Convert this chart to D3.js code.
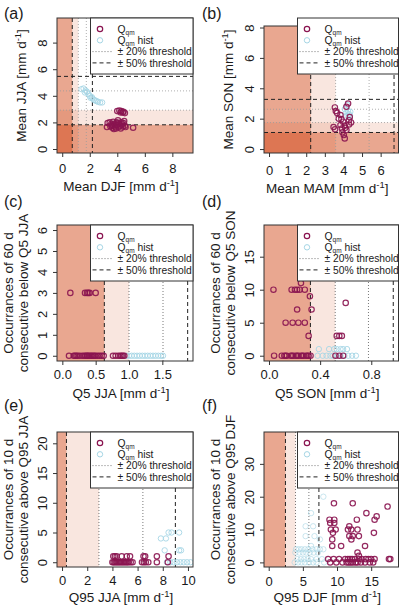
<!DOCTYPE html>
<html>
<head>
<meta charset="utf-8">
<script src="https://cdn.jsdelivr.net/npm/d3@7"></script>
<style>
  body { margin: 0; background: #fff; }
  svg { display: block; }
  text { font-family: "Liberation Sans", Arial, sans-serif; fill: #1a1a1a; }
</style>
</head>
<body>
<svg width="400" height="608"></svg>
<script>
// values, one pair = [x, y]

// (a) mean DJF vs mean JJA
const qqmA = [[4.0,2.85],[4.15,2.9],[4.3,2.85],[4.4,2.75],[4.55,2.7],[4.25,2.75],[4.45,2.8],
  [3.25,1.65],[3.3,1.95],[3.45,2.0],[3.55,1.85],[3.6,1.75],[3.65,1.6],[3.7,2.05],[3.75,1.5],[3.8,1.9],
  [3.85,1.7],[3.9,1.55],[3.95,2.0],[4.0,1.8],[4.05,2.15],[4.1,1.65],[4.15,1.9],[4.2,1.75],[4.25,1.55],
  [4.3,2.0],[4.35,1.85],[4.4,1.7],[4.5,2.1],[4.55,1.75],[4.6,1.65],[3.5,1.7],[3.7,1.8],[4.0,1.95],
  [5.15,1.6],[4.45,1.95]]
const histA = [[1.4,4.5],[1.55,4.55],[1.7,4.4],[1.8,4.3],[1.9,4.15],[2.0,4.0],[2.05,3.85],[2.2,3.8],
  [2.3,3.7],[2.4,3.65],[2.5,3.6],[2.6,3.55],[2.75,3.5],[2.9,3.5],[1.65,4.25],[2.15,3.9]]

// (b) mean MAM vs mean SON
const qqmB = [[3.54,2.74],[3.59,2.5],[3.66,2.38],[3.84,2.24],[4.25,3.0],[4.16,2.78],[3.89,1.97],
  [3.98,1.8],[3.84,1.58],[4.07,1.54],[4.3,1.62],[4.41,1.75],[4.16,1.25],[3.47,1.45],[3.55,1.3],
  [3.95,1.1],[4.02,0.92],[4.07,0.7],[4.3,1.9],[4.34,2.1],[3.75,2.0],[4.1,1.4],[3.92,1.35]]
const histB = [[4.07,2.63],[4.16,2.41],[4.25,2.5],[4.3,2.3],[4.12,2.15],[4.37,2.45],[4.2,2.9],
  [4.22,2.2],[4.35,2.2]]

// (c) Q5 JJA vs occurrences of 60 d below
const qqmC = [[0.10,0],[0.17,0],[0.19,0],[0.21,0],[0.23,0],[0.26,0],[0.30,0],[0.33,0],[0.35,0],
  [0.37,0],[0.38,0],[0.40,0],[0.42,0],[0.44,0],[0.46,0],[0.48,0],[0.50,0],[0.53,0],[0.56,0],
  [0.59,0],[0.62,0],[0.76,0],[0.80,0],[0.84,0],[0.87,0],[0.89,0],[0.91,0],[0.93,0],
  [0.12,3],[0.34,3],[0.37,3],[0.39,3],[0.41,3],[0.50,3]]
const histC = [[0.96,0],[1.0,0],[1.04,0],[1.08,0],[1.12,0],[1.16,0],[1.2,0],[1.24,0],[1.28,0],
  [1.32,0],[1.36,0],[1.4,0],[1.44,0],[1.48,0],[1.51,0]]

// (d) Q5 SON vs occurrences of 60 d below
const qqmD = [[0.25,11],[0.035,10],[0.177,10],[0.203,10],[0.22,10],[0.24,10],[0.28,10],[0.32,9],
  [0.333,7],[0.22,7],[0.6,8],[0.13,5],[0.185,5],[0.23,5],[0.28,5],[0.31,3],[0.53,3],[0.55,3],[0.57,3],
  [0.04,0],[0.10,0],[0.12,0],[0.13,0],[0.14,0],[0.17,0],[0.18,0],[0.19,0],[0.21,0],[0.22,0],[0.23,0],
  [0.25,0],[0.26,0],[0.27,0],[0.29,0],[0.30,0],[0.31,0],[0.325,0],[0.52,0],[0.55,0],[0.58,0]]
const histD = [[0.39,1],[0.47,1],[0.51,1],[0.53,1],[0.56,1],[0.58,1],[0.61,1],
  [0.38,0],[0.42,0],[0.45,0],[0.48,0],[0.50,0],[0.53,0],[0.56,0],[0.59,0],[0.62,0],[0.65,0],[0.68,0]]

// (e) Q95 JJA vs occurrences of 10 d above
const qqmE = [[4.07,1],[4.2,1],[4.34,1],[4.74,1],[5.14,1],[5.4,1],[6.47,1],[6.6,1],[7.53,1],[8.46,1],
  [4.0,0],[4.1,0],[4.2,0],[4.3,0],[4.4,0],[4.5,0],[4.6,0],[4.7,0],[4.8,0],[4.9,0],[5.0,0],[5.1,0],
  [5.2,0],[5.3,0],[5.45,0],[5.6,0],[6.35,0],[6.5,0],[6.65,0],[6.85,0],[7.53,0],[8.4,0]]
const histE = [[8.46,5],[8.7,5],[9.3,5],[7.85,4],[8.25,4],[8.15,2],[9.3,2],[9.45,2],
  [8.33,0],[8.6,0],[8.86,0],[9.13,0],[9.4,0],[9.66,0],[9.93,0],[10.2,0]]

// (f) Q95 DJF vs occurrences of 10 d above
const qqmF = [[9.55,18],[12.3,18],[17.4,17],[14.3,15],[15.8,14],[15.5,13],[8.9,13],[9.6,13],[9.0,12],
  [9.6,12],[12.9,13],[11.6,10],[11.8,11],[12.1,10],[13.0,10],[9.1,10],[9.8,10],[9.4,9],[11.8,8],
  [12.3,8],[13.2,8],[15.4,9],[9.3,7],[12.1,7],[9.3,5],[10.6,5],[14.1,5],[13.0,3],[13.2,2],
  [8.7,1],[9.5,1],[10.3,1],[11.2,1],[11.6,1],[11.9,1],[12.2,1],[12.6,1],[13.2,1],[13.6,1],[14.2,1],
  [14.6,1],[15.0,1],[15.5,1],[17.6,1],[17.8,1],
  [9.0,0],[9.9,0],[10.8,0],[11.4,0],[11.7,0],[12.0,0],[12.3,0],[12.7,0],[13.0,0],[13.5,0],[14.1,0],
  [14.8,0],[15.3,0]]
const histF = [[8.0,20],[6.2,15],[5.4,11],[6.5,11],[5.4,8],[6.7,8],[7.5,7],[6.2,5],
  [4.0,4],[4.4,4],[4.8,4],[5.3,4],[5.8,4],[6.4,4],[7.0,4],[7.5,4],[8.0,4],
  [3.9,3],[4.5,3],[5.0,3],[5.5,3],[6.0,3],[6.6,3],[7.2,3],
  [4.2,1],[4.7,1],[5.2,1],[5.7,1],[6.2,1],[7.0,1],[7.8,1],
  [3.8,0],[4.3,0],[4.8,0],[5.3,0],[5.9,0],[6.5,0],[7.0,0],[8.1,0]]

// thresholds (lower, upper)
const x50 = [[0.73,2.19],[2.24,6.72],[0.63,1.88],[0.324,0.972],[0.35,9.0],[2.45,7.35]]
const x20 = [[1.17,1.75],[3.58,5.38],[1.0,1.51],[0.518,0.778],[2.93,6.42],[3.92,5.88]]
const y50 = [[1.82,5.46],[1.09,3.27]]
const y20 = [[2.92,4.37],[1.745,2.62]]

// ticks
const xTicks = [[0,2,4,6,8],[0,1,2,3,4,5,6],[0,0.5,1,1.5],[0,0.4,0.8],[0,2,4,6,8,10],[0,5,10,15]]
const yTicks = [[0,2,4,6,8],[0,2,4,6,8],[0,1,2,3,4,5,6],[0,5,10,15],[0,5,10,15,20],[0,10,20,30]]
const xFmt = [d3.format("d"), d3.format("d"), d3.format(".1f"), d3.format(".1f"), d3.format("d"), d3.format("d")]

const letters = ["(a)","(b)","(c)","(d)","(e)","(f)"]
const xTitles = ["Mean DJF", "Mean MAM", "Q5 JJA", "Q5 SON", "Q95 JJA", "Q95 DJF "]
const yTitles = [["Mean JJA"], ["Mean SON"],
  ["Occurrances of 60 d", "consecutive below Q5 JJA"],
  ["Occurrances of 60 d", "consecutive below Q5 SON"],
  ["Occurrances of 10 d", "consecutive above Q95 JJA"],
  ["Occurrances of 10 d", "consecutive above Q95 DJF"]]

const qqmData = [qqmA, qqmB, qqmC, qqmD, qqmE, qqmF]
const histData = [histA, histB, histC, histD, histE, histF]

// layout
const boxes = [
  {l: 57,  r: 193, t: 18,  b: 153, row: 18,  xd: [-0.38, 9.5],  yd: [-0.3, 9.85]},
  {l: 264, r: 398.5, t: 26, b: 153, row: 18, xd: [-0.27, 6.96], yd: [-0.26, 8.1]},
  {l: 57,  r: 193, t: 225, b: 361, row: 225, xd: [-0.08, 1.96], yd: [-0.25, 6.24]},
  {l: 264, r: 398.5, t: 225, b: 361, row: 225, xd: [-0.039, 1.013], yd: [-0.8, 19.8]},
  {l: 57,  r: 193, t: 432, b: 567, row: 432, xd: [-0.4, 10.4], yd: [-0.8, 21.9]},
  {l: 264, r: 398.5, t: 432, b: 567, row: 432, xd: [-0.69, 19.0], yd: [-1.4, 39.7]}
]
const letterY = [19, 19, 207, 207, 411, 411]
const tickPad = [6.5, 8.5, 4.5, 4.5, 5, 6]
const titleOff = [38, 40, 36.5, 36.5, 35, 35]

const dark = "rgba(206,60,8,0.45)",
      pale = "rgba(206,60,8,0.13)",
      qqmCol = "#8a1450",
      histCol = "#a6d6e5"

const svg = d3.select("svg")

const addUnit = (sel) => {
  sel.append("tspan").text(" [mm d")
  sel.append("tspan").attr("font-size", "0.7em").attr("dy", "-0.5em").text("-1")
  sel.append("tspan").attr("dy", "0.35em").text("]")
}

boxes.forEach((p, i) => {
  const x = d3.scaleLinear().domain(p.xd).range([p.l, p.r])
  const y = d3.scaleLinear().domain(p.yd).range([p.b, p.t])
  const g = svg.append("g")

  const clipId = "clip" + i
  g.append("clipPath").attr("id", clipId)
    .append("rect").attr("x", p.l).attr("y", p.t).attr("width", p.r - p.l).attr("height", p.b - p.t)
  const inner = g.append("g").attr("clip-path", "url(#" + clipId + ")")

  // shaded regions below the thresholds
  inner.append("rect").attr("x", x(p.xd[0])).attr("y", p.t)
    .attr("width", x(x50[i][0]) - x(p.xd[0])).attr("height", p.b - p.t).attr("fill", dark)
  inner.append("rect").attr("x", x(x50[i][0])).attr("y", p.t)
    .attr("width", x(x20[i][0]) - x(x50[i][0])).attr("height", p.b - p.t).attr("fill", pale)
  if (i < 2) {
    inner.append("rect").attr("x", p.l).attr("y", y(y50[i][0]))
      .attr("width", p.r - p.l).attr("height", y(p.yd[0]) - y(y50[i][0])).attr("fill", dark)
    inner.append("rect").attr("x", p.l).attr("y", y(y20[i][0]))
      .attr("width", p.r - p.l).attr("height", y(y50[i][0]) - y(y20[i][0])).attr("fill", pale)
  }

  // threshold lines
  const dotCol = i < 2 ? "#9a9a9a" : "#555"
  x20[i].forEach(v => inner.append("line").attr("x1", x(v)).attr("x2", x(v)).attr("y1", p.t).attr("y2", p.b)
    .attr("stroke", dotCol).attr("stroke-width", 0.8).attr("stroke-dasharray", "1,2"))
  x50[i].forEach(v => inner.append("line").attr("x1", x(v)).attr("x2", x(v)).attr("y1", p.t).attr("y2", p.b)
    .attr("stroke", "#222").attr("stroke-width", 1).attr("stroke-dasharray", "4,3"))
  if (i < 2) {
    y20[i].forEach(v => inner.append("line").attr("y1", y(v)).attr("y2", y(v)).attr("x1", p.l).attr("x2", p.r)
      .attr("stroke", dotCol).attr("stroke-width", 0.8).attr("stroke-dasharray", "1,2"))
    y50[i].forEach(v => inner.append("line").attr("y1", y(v)).attr("y2", y(v)).attr("x1", p.l).attr("x2", p.r)
      .attr("stroke", "#222").attr("stroke-width", 1).attr("stroke-dasharray", "4,3"))
  }

  // points
  inner.selectAll("circle.hist").data(histData[i]).enter().append("circle")
    .attr("class", "hist").attr("cx", d => x(d[0])).attr("cy", d => y(d[1])).attr("r", 2.7)
    .attr("fill", "none").attr("stroke", histCol).attr("stroke-width", 1)
    .attr("stroke-opacity", i === 5 ? 0.6 : 0.9)
  inner.selectAll("circle.qqm").data(qqmData[i]).enter().append("circle")
    .attr("class", "qqm").attr("cx", d => x(d[0])).attr("cy", d => y(d[1])).attr("r", 2.7)
    .attr("fill", "none").attr("stroke", qqmCol).attr("stroke-width", 1.2).attr("stroke-opacity", 0.9)

  // axes
  const xa = g.append("g").attr("transform", "translate(0," + p.b + ")")
    .call(d3.axisBottom(x).tickValues(xTicks[i]).tickFormat(xFmt[i]).tickSize(4).tickPadding(tickPad[i]))
  const ya = g.append("g").attr("transform", "translate(" + p.l + ",0)")
    .call(d3.axisLeft(y).tickValues(yTicks[i]).tickFormat(d3.format("d")).tickSize(4))
  ;[xa, ya].forEach(a => {
    a.select(".domain").remove()
    a.selectAll(".tick line").attr("stroke", "#333")
    a.selectAll("text").attr("font-size", 13).attr("fill", "#1a1a1a").style("font-family", "Liberation Sans, Arial, sans-serif")
  })
  ya.selectAll("text").attr("x", null).attr("dy", null).attr("text-anchor", "middle")
    .attr("transform", "translate(-10,0) rotate(-90)")

  // frame
  g.append("rect").attr("x", p.l).attr("y", p.t).attr("width", p.r - p.l).attr("height", p.b - p.t)
    .attr("fill", "none").attr("stroke", "#333").attr("stroke-width", 1)

  // titles
  const xt = g.append("text").attr("x", (p.l + p.r) / 2 - 4).attr("y", p.b + titleOff[i])
    .attr("text-anchor", "middle").attr("font-size", 13.5).text(xTitles[i])
  addUnit(xt)

  const cy = (p.t + p.b) / 2
  if (yTitles[i].length === 1) {
    const yt = g.append("text").attr("transform", "translate(" + (p.l - 31) + "," + cy + ") rotate(-90)")
      .attr("text-anchor", "middle").attr("font-size", 13.5).text(yTitles[i][0])
    addUnit(yt)
  } else {
    yTitles[i].forEach((s, k) => {
      g.append("text").attr("transform", "translate(" + (p.l - 44 + k * 15) + "," + cy + ") rotate(-90)")
        .attr("text-anchor", "middle").attr("font-size", 13.5).text(s)
    })
  }

  g.append("text").attr("x", i % 2 ? 202 : 4).attr("y", letterY[i]).attr("font-size", 16).text(letters[i])

  // legend
  const lx = p.l + 33.5, ly = p.row, lw = p.r - lx, lh = 56
  const lg = g.append("g")
  lg.append("rect").attr("x", lx).attr("y", ly).attr("width", lw).attr("height", lh)
    .attr("fill", "#fff").attr("stroke", "#333").attr("stroke-width", 1)
  const rows = [11, 22.3, 33.6, 44.9]
  lg.append("circle").attr("cx", lx + 9.5).attr("cy", ly + rows[0]).attr("r", 2.7)
    .attr("fill", "none").attr("stroke", qqmCol).attr("stroke-width", 1.2)
  lg.append("circle").attr("cx", lx + 9.5).attr("cy", ly + rows[1]).attr("r", 2.7)
    .attr("fill", "none").attr("stroke", histCol).attr("stroke-width", 1)
  lg.append("line").attr("x1", lx + 2).attr("x2", lx + 22).attr("y1", ly + rows[2]).attr("y2", ly + rows[2])
    .attr("stroke", "#555").attr("stroke-width", 0.8).attr("stroke-dasharray", "1,2")
  lg.append("line").attr("x1", lx + 2).attr("x2", lx + 22).attr("y1", ly + rows[3]).attr("y2", ly + rows[3])
    .attr("stroke", "#222").attr("stroke-width", 1).attr("stroke-dasharray", "4,3")
  const labels = [["Q", "qm", ""], ["Q", "qm", " hist"], ["± 20% threshold"], ["± 50% threshold"]]
  labels.forEach((lab, k) => {
    const t = lg.append("text").attr("x", lx + 27).attr("y", ly + rows[k] + 3.7).attr("font-size", 10.3)
    t.append("tspan").text(lab[0])
    if (lab.length > 1) {
      t.append("tspan").attr("font-size", 6.5).attr("dy", 2).text(lab[1])
      t.append("tspan").attr("dy", -2).text(lab[2])
    }
  })
})
</script>
</body>
</html>
